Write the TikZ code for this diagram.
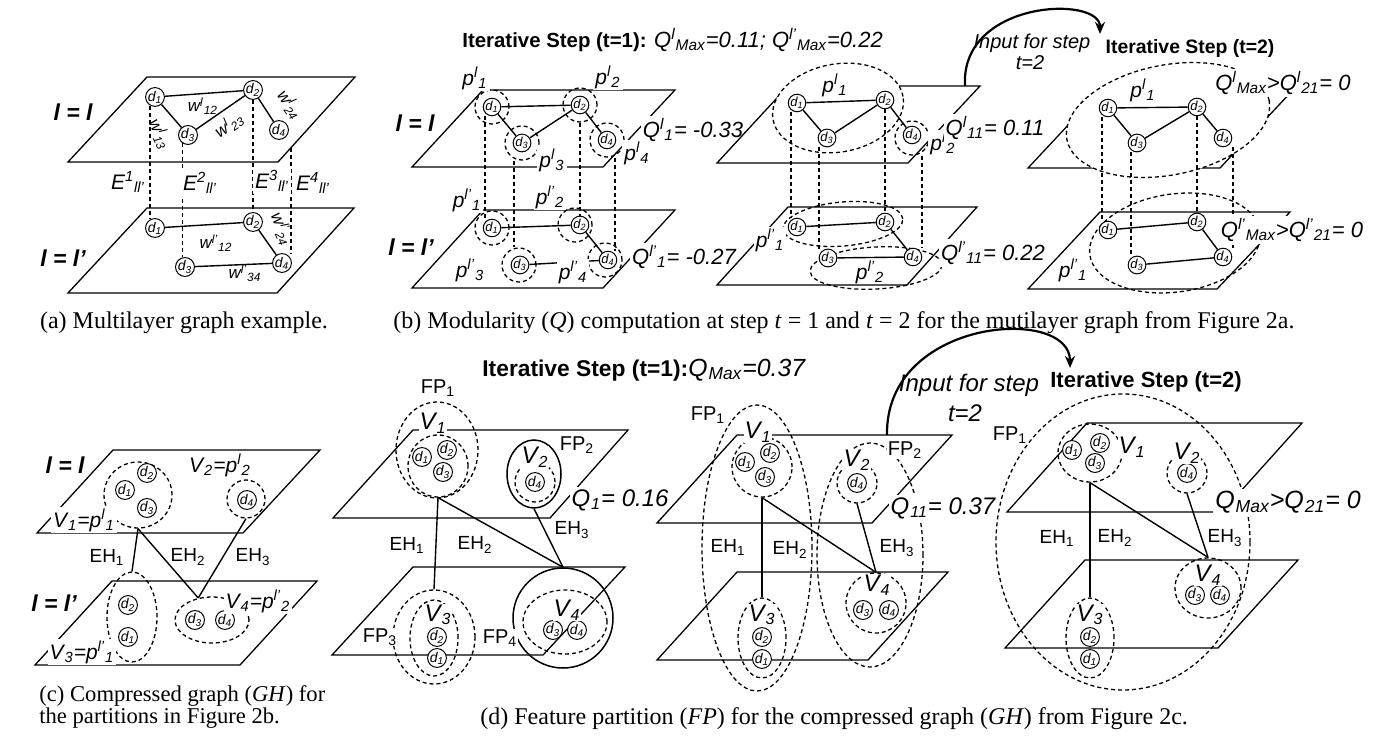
\documentclass[tikz,border=0pt]{standalone}
\usepackage{fontspec}
\setmainfont{Liberation Serif}
\setsansfont{Liberation Sans}
\usetikzlibrary{shapes.geometric,arrows.meta}
\newcommand{\dd}[1]{d\textsubscript{#1}}
\newcommand{\sus}[3]{#1\textsuperscript{#2}\textsubscript{#3}}
\newcommand{\fs}[1]{\fontsize{#1}{#1}\selectfont}
\tikzset{
 pl/.style={line width=0.65pt},
 ed/.style={line width=0.7pt},
 dsh/.style={line width=0.65pt, dash pattern=on 2pt off 1.5pt},
 dn/.style={circle, draw, fill=white, inner sep=0pt, minimum size=9pt, line width=0.5pt, font=\sffamily\itshape\fs{7}},
 dns/.style={dn, minimum size=8pt, font=\sffamily\itshape\fs{6.5}},
 dc/.style={circle, draw, dsh, inner sep=0pt, minimum size=17pt},
 de/.style={ellipse, draw, dsh, inner sep=0pt},
 se/.style={ellipse, draw, line width=0.75pt, inner sep=0pt},
 lab/.style={font=\sffamily\itshape\fs{10.5}, inner sep=1pt, fill=white},
 qlab/.style={font=\sffamily\itshape\fs{11}, inner sep=1pt, fill=white},
 wl/.style={font=\sffamily\itshape\fs{8.5}, inner sep=0.3pt},
 ll/.style={font=\sffamily\bfseries\itshape\fs{11.5}},
 tit/.style={font=\sffamily\bfseries\fs{10.2}, inner sep=0pt},
 eh/.style={font=\sffamily\fs{9.5}, inner sep=1pt},
 vl/.style={font=\sffamily\itshape\fs{12}, inner sep=0.5pt, fill=white},
 fpl/.style={font=\sffamily\fs{10}, inner sep=0.5pt, fill=white},
 bq/.style={font=\sffamily\itshape\fs{12}, inner sep=1pt, fill=white},
 capt/.style={font=\rmfamily\fontsize{12}{12}\selectfont, inner sep=0pt},
 arr/.style={line width=1.1pt, -{Stealth[length=6pt,width=5pt]}}
}
\begin{document}
\begin{tikzpicture}[x=0.5pt,y=-0.5pt]
\useasboundingbox (0,0) rectangle (1390,742);

% ================= panel (a)
\draw[pl] (147,77) -- (355,77) -- (278,162) -- (68,162) -- cycle;
\draw[pl] (147,208) -- (354,208) -- (277,293) -- (68,293) -- cycle;
\node[dn] (a1) at (155,97) {\dd1};
\node[dn] (a2) at (253,90) {\dd2};
\node[dn] (a3) at (188,135) {\dd3};
\node[dn] (a4) at (279,130) {\dd4};
\node[dn] (A1) at (155,228) {\dd1};
\node[dn] (A2) at (253,222) {\dd2};
\node[dn] (A3) at (185,267) {\dd3};
\node[dn] (A4) at (282,263) {\dd4};
\draw[ed] (a1) -- (a2); \draw[ed] (a1) -- (a3); \draw[ed] (a3) -- (a2); \draw[ed] (a2) -- (a4);
\draw[ed] (A1) -- (A2); \draw[ed] (A3) -- (A4); \draw[ed] (A2) -- (A4);
\draw[dsh] (a1.240) -- (a1.240 |- A1.north);
\draw[dsh] (a3.235) -- (a3.235 |- A3.north);
\draw[dsh] (a2.south) -- (A2.north);
\coordinate (a4e) at (291,148);
\draw[dsh] (a4e) -- (a4e |- A4.north);
\node[wl] (w12) at (203,106) {\sus{w}{l}{12}};
\node[wl, rotate=34] (w23) at (229,125) {\sus{w}{l}{23}};
\node[wl, rotate=-65] (w13) at (160,134) {\sus{w}{l}{13}};
\node[wl, rotate=-55] (w24) at (290,105) {\sus{w}{l}{24}};
\node[wl] (W12) at (216,243) {\sus{w}{l'}{12}};
\node[wl] (W34) at (245,273) {\sus{w}{l'}{34}};
\node[wl, rotate=-68] (W24) at (282,229) {\sus{w}{l'}{24}};
\node[lab] (E1) at (128,182) {\sus{E}{1}{ll'}};
\node[lab] (E2) at (200,183) {\sus{E}{2}{ll'}};
\node[lab] (E3) at (272,181) {\sus{E}{3}{ll'}};
\node[lab] (E4) at (313,183) {\sus{E}{4}{ll'}};
\node[ll] (la1) at (73,112) {l = l};
\node[ll] (la2) at (63,258) {l = l'};
\node[capt] (capa) at (184,323) {(a) Multilayer graph example.};

% ================= panel (b) step 1
\draw[pl] (483,90) -- (675,90) -- (603,167) -- (412,167) -- cycle;
\draw[pl] (483,210) -- (675,210) -- (603,288) -- (412,288) -- cycle;
\node[dc] (b1c) at (492,107) {};
\node[dc] (b2c) at (580,105) {};
\node[dc] (b3c) at (522,143) {};
\node[dc] (b4c) at (607,140) {};
\node[dc] (B1c) at (492,228) {};
\node[dc] (B2c) at (575,225) {};
\node[dc] (B3c) at (519,265) {};
\node[dc] (B4c) at (605,260) {};
\node[dns] (b1) at (492,107) {\dd1};
\node[dns] (b2) at (580,105) {\dd2};
\node[dns] (b3) at (522,143) {\dd3};
\node[dns] (b4) at (607,140) {\dd4};
\node[dns] (B1) at (492,228) {\dd1};
\node[dns] (B2) at (580,225) {\dd2};
\node[dns] (B3) at (520,265) {\dd3};
\node[dns] (B4) at (608,260) {\dd4};
\draw[ed] (b1) -- (b2); \draw[ed] (b1) -- (b3); \draw[ed] (b3) -- (b2); \draw[ed] (b2) -- (b4);
\draw[ed] (B1) -- (B2); \draw[ed] (B3) -- (B4); \draw[ed] (B2) -- (B4);
\draw[dsh] ([xshift=-3.5pt]b1.south) -- ([xshift=-3.5pt]B1.north);
\draw[dsh] ([xshift=-4pt]b3c.south) -- ([xshift=-4pt]b3c.south |- B3c.north);
\draw[dsh] (b2c.south) -- (b2c.south |- B2.north);
\draw[dsh] ([xshift=4pt]b4c.south) -- ([xshift=4pt]b4c.south |- B4.north);
\node[lab] (pb1) at (475,78) {\sus{p}{l}{1}};
\node[lab] (pb2) at (608,77) {\sus{p}{l}{2}};
\node[lab] (pb3) at (552,160) {\sus{p}{l}{3}};
\node[lab] (pb4) at (637,153) {\sus{p}{l}{4}};
\node[lab] (Pb1) at (467,200) {\sus{p}{l'}{1}};
\node[lab] (Pb2) at (550,197) {\sus{p}{l'}{2}};
\node[lab] (Pb3) at (470,270) {\sus{p}{l'}{3}};
\node[lab] (Pb4) at (573,272) {\sus{p}{l'}{4}};
\node[qlab] (qb1) at (693,130) {\sus{Q}{l}{1}= -0.33};
\node[qlab] (Qb1) at (684,257) {\sus{Q}{l'}{1}= -0.27};
\node[ll] (lb1) at (415,123) {l = l};
\node[ll] (lb2) at (411,247) {l = l'};
\node[tit, anchor=west] (titb) at (462,40) {Iterative Step (t=1): {\mdseries\itshape\fs{11}\sus{Q}{l}{Max}=0.11; \sus{Q}{l'}{Max}=0.22}};

% ================= panel (b) merged step 1
\draw[pl] (788,86) -- (980,86) -- (908,163) -- (717,163) -- cycle;
\draw[pl] (788,207) -- (977,207) -- (907,285) -- (717,285) -- cycle;
\node[de, fill=white, minimum width=66pt, minimum height=44pt, rotate=10] (pc1) at (838,108) {};
\node[dc] (c4c) at (912,138) {};
\node[de, minimum width=60pt, minimum height=22pt, rotate=5] (Pc1) at (843,224) {};
\node[de, minimum width=66pt, minimum height=21pt, rotate=3] (Pc2) at (876,268) {};
\node[dns] (c1) at (797,103) {\dd1};
\node[dns] (c2) at (885,100) {\dd2};
\node[dns] (c3) at (827,138) {\dd3};
\node[dns] (c4) at (912,135) {\dd4};
\node[dns] (C1) at (797,227) {\dd1};
\node[dns] (C2) at (885,222) {\dd2};
\node[dns] (C3) at (828,258) {\dd3};
\node[dns] (C4) at (913,257) {\dd4};
\draw[ed] (c1) -- (c2); \draw[ed] (c1) -- (c3); \draw[ed] (c3) -- (c2); \draw[ed] (c2) -- (c4);
\draw[ed] (C1) -- (C2); \draw[ed] (C3) -- (C4); \draw[ed] (C2) -- (C4);
\draw[dsh] ([xshift=-3pt]c1.south) -- ([xshift=-3pt]c1.south |- C1.north);
\draw[dsh] ([xshift=-4pt]c3.south) -- ([xshift=-4pt]c3.south |- C3.north);
\draw[dsh] (c2.south) -- (c2.south |- C2.north);
\draw[dsh] ([xshift=5pt]c4c.south) -- ([xshift=5pt]c4c.south |- C4.north);
\node[lab, fill=none] (pc1l) at (835,85) {\sus{p}{l}{1}};
\node[lab] (pc2l) at (943,143) {\sus{p}{l}{2}};
\node[qlab] (qc) at (995,128) {\sus{Q}{l}{11}= 0.11};
\node[lab] (Pc1l) at (770,240) {\sus{p}{l'}{1}};
\node[lab, fill=none] (Pc2l) at (870,272) {\sus{p}{l'}{2}};
\node[qlab] (Qc) at (993,253) {\sus{Q}{l'}{11}= 0.22};
\node[lab, fill=none, font=\sffamily\itshape\fs{10}] (inb1) at (1032,43) {Input for step};
\node[lab, fill=none, font=\sffamily\itshape\fs{10}] (inb2) at (1030,63) {t=2};
\node[tit, font=\sffamily\bfseries\fs{9.7}] (titb2) at (1190,48) {Iterative Step (t=2)};
\coordinate (arbS) at (965,86);
\coordinate (arbE) at (1100,34);
\draw[arr] (arbS) .. controls (960,0) and (1100,-5) .. (arbE);

% ================= panel (b) step 2
\draw[pl] (1100,91) -- (1292,91) -- (1220,168) -- (1028,168) -- cycle;
\draw[pl] (1100,212) -- (1290,212) -- (1217,289) -- (1028,289) -- cycle;
\node[de, fill=white, minimum width=103pt, minimum height=55pt, rotate=11] (pe1) at (1168,120) {};
\node[de, minimum width=86pt, minimum height=49pt, rotate=8] (Pe1) at (1175,243) {};
\node[dns] (e1) at (1108,108) {\dd1};
\node[dns] (e2) at (1197,107) {\dd2};
\node[dns] (e3) at (1137,143) {\dd3};
\node[dns] (e4) at (1223,138) {\dd4};
\node[dns] (E1n) at (1108,230) {\dd1};
\node[dns] (E2n) at (1197,222) {\dd2};
\node[dns] (E3n) at (1137,265) {\dd3};
\node[dns] (E4n) at (1223,257) {\dd4};
\draw[ed] (e1) -- (e2); \draw[ed] (e1) -- (e3); \draw[ed] (e3) -- (e2); \draw[ed] (e2) -- (e4);
\draw[ed] (E1n) -- (E2n); \draw[ed] (E3n) -- (E4n); \draw[ed] (E2n) -- (E4n);
\draw[dsh] ([xshift=-3pt]e1.south) -- ([xshift=-3pt]e1.south |- E1n.north);
\draw[dsh] ([xshift=-3pt]e3.south) -- ([xshift=-3pt]e3.south |- E3n.north);
\draw[dsh] (e2.south) -- (e2.south |- E2n.north);
\draw[dsh] ([xshift=5pt]e4.south) -- ([xshift=5pt]e4.south |- E4n.north);
\node[lab, fill=none] (pe1l) at (1143,90) {\sus{p}{l}{1}};
\node[lab, fill=none] (Pe1l) at (1073,270) {\sus{p}{l'}{1}};
\node[qlab] (qe) at (1283,83) {\sus{Q}{l}{Max}>\sus{Q}{l}{21}= 0};
\node[qlab] (Qe) at (1292,230) {\sus{Q}{l'}{Max}>\sus{Q}{l'}{21}= 0};
\node[capt] (capb) at (844,323) {(b) Modularity (\textit{Q}) computation at step \textit{t} = 1 and \textit{t} = 2 for the mutilayer graph from Figure 2a.};

% ================= panel (c)
\draw[pl] (113,450) -- (320,450) -- (243,533) -- (37,533) -- cycle;
\draw[pl] (112,581) -- (317,581) -- (240,665) -- (35,665) -- cycle;
\node[de, minimum width=34pt, minimum height=33pt] (gV1) at (138,495) {};
\node[dc, minimum size=19pt] (gV2) at (246,499) {};
\node[de, minimum width=25pt, minimum height=45pt] (gV3) at (132,617) {};
\node[de, minimum width=37pt, minimum height=23pt] (gV4) at (212,620) {};
\node[dn] (g12) at (147,473) {\dd2};
\node[dn] (g11) at (125,490) {\dd1};
\node[dn] (g13) at (147,508) {\dd3};
\node[dn] (g24) at (247,500) {\dd4};
\node[dn] (g32) at (128,605) {\dd2};
\node[dn] (g31) at (128,637) {\dd1};
\node[dn] (g43) at (195,620) {\dd3};
\node[dn] (g44) at (225,620) {\dd4};
\draw[ed] (gV1.south) -- (gV3.north);
\draw[ed] (gV1.south) -- (gV4.122);
\draw[ed] (gV2.south) -- (gV4.122);
\node[lab] (gl1) at (84,520) {\sus{V}{}{1}=\sus{p}{l}{1}};
\node[lab] (gl2) at (220,465) {\sus{V}{}{2}=\sus{p}{l}{2}};
\node[lab] (gl3) at (82,652) {\sus{V}{}{3}=\sus{p}{l'}{1}};
\node[lab] (gl4) at (258,601) {\sus{V}{}{4}=\sus{p}{l'}{2}};
\node[eh] (geh1) at (107,557) {EH\textsubscript{1}};
\node[eh] (geh2) at (188,557) {EH\textsubscript{2}};
\node[eh] (geh3) at (253,557) {EH\textsubscript{3}};
\node[ll] (lc1) at (65,465) {l = l};
\node[ll] (lc2) at (54,603) {l = l'};
\node[capt, anchor=west, font=\rmfamily\fontsize{11.3}{11}\selectfont] (capc1) at (39,696) {(c) Compressed graph (\textit{GH}) for};
\node[capt, anchor=west, font=\rmfamily\fontsize{11.3}{11}\selectfont] (capc2) at (39,718) {the partitions in Figure 2b.};

% ================= panel (d) step 1
\draw[pl] (413,430) -- (628,430) -- (550,518) -- (333,518) -- cycle;
\draw[pl] (413,567) -- (625,567) -- (543,655) -- (332,655) -- cycle;
\node[de, minimum width=41pt, minimum height=48pt] (hFP1) at (437,450) {};
\node[de, minimum width=30pt, minimum height=31pt] (hV1) at (438,466) {};
\node[se, minimum width=27pt, minimum height=34pt] (hFP2) at (534,474) {};
\node[de, minimum width=20pt, minimum height=20pt] (hV2) at (535,482) {};
\node[de, minimum width=41pt, minimum height=47pt] (hFP3) at (434,637) {};
\node[de, minimum width=24pt, minimum height=38pt] (hV3) at (434,638) {};
\node[se, minimum width=50pt, minimum height=50pt] (hFP4) at (563,618) {};
\node[de, minimum width=42pt, minimum height=32pt] (hV4) at (565,622) {};
\node[dn] (h11) at (422,457) {\dd1};
\node[dn] (h12) at (447,450) {\dd2};
\node[dn] (h13) at (443,472) {\dd3};
\node[dn] (h24) at (535,482) {\dd4};
\node[dn] (h32) at (437,637) {\dd2};
\node[dn] (h31) at (437,658) {\dd1};
\node[dn] (h43) at (553,630) {\dd3};
\node[dn] (h44) at (577,630) {\dd4};
\draw[ed] (hV1.south) -- (hFP3.north);
\draw[ed] (hV1.south) -- (hFP4.north);
\draw[ed] (hFP2.south) -- (hFP4.north);
\node[vl] (hv1) at (433,423) {\sus{V}{}{1}};
\node[vl] (hv2) at (535,457) {\sus{V}{}{2}};
\node[vl] (hv3) at (438,615) {\sus{V}{}{3}};
\node[vl] (hv4) at (567,610) {\sus{V}{}{4}};
\node[fpl] (hf1) at (438,388) {FP\textsubscript{1}};
\node[fpl] (hf2) at (577,445) {FP\textsubscript{2}};
\node[fpl] (hf3) at (380,637) {FP\textsubscript{3}};
\node[fpl] (hf4) at (500,638) {FP\textsubscript{4}};
\node[bq] (hq) at (620,500) {\sus{Q}{}{1}= 0.16};
\node[eh] (heh1) at (407,545) {EH\textsubscript{1}};
\node[eh] (heh2) at (475,545) {EH\textsubscript{2}};
\node[eh] (heh3) at (572,530) {EH\textsubscript{3}};
\node[tit, anchor=west, font=\sffamily\bfseries\fs{11.4}] (titd) at (482,370) {Iterative Step (t=1):{\mdseries\itshape\fs{12.4}\sus{Q}{}{Max}=0.37}};

% ================= panel (d) merged
\draw[pl] (737,435) -- (952,435) -- (872,523) -- (657,523) -- cycle;
\draw[pl] (737,572) -- (948,572) -- (868,660) -- (657,660) -- cycle;
\node[de, minimum width=55pt, minimum height=143pt] (iFP1) at (757,548) {};
\node[de, minimum width=53pt, minimum height=112pt] (iFP2) at (870,555) {};
\node[de, minimum width=30pt, minimum height=30pt] (iV1) at (762,467) {};
\node[de, minimum width=20pt, minimum height=20pt] (iV2) at (857,483) {};
\node[de, minimum width=24pt, minimum height=40pt] (iV3) at (762,638) {};
\node[de, minimum width=30pt, minimum height=30pt] (iV4) at (876,603) {};
\node[dn] (i11) at (745,462) {\dd1};
\node[dn] (i12) at (770,453) {\dd2};
\node[dn] (i13) at (765,477) {\dd3};
\node[dn] (i24) at (857,483) {\dd4};
\node[dn] (i32) at (762,637) {\dd2};
\node[dn] (i31) at (762,659) {\dd1};
\node[dn] (i43) at (863,610) {\dd3};
\node[dn] (i44) at (889,610) {\dd4};
\draw[ed] (iV1.south) -- (iV3.north);
\draw[ed] (iV1.south) -- (iV4.north);
\draw[ed] (iV2.south) -- (iV4.north);
\node[vl] (iv1) at (758,432) {\sus{V}{}{1}};
\node[vl] (iv2) at (857,460) {\sus{V}{}{2}};
\node[vl] (iv3) at (762,615) {\sus{V}{}{3}};
\node[vl] (iv4) at (877,585) {\sus{V}{}{4}};
\node[fpl] (if1) at (708,415) {FP\textsubscript{1}};
\node[fpl] (if2) at (905,450) {FP\textsubscript{2}};
\node[bq] (iq) at (943,508) {\sus{Q}{}{11}= 0.37};
\node[eh] (ieh1) at (728,547) {EH\textsubscript{1}};
\node[eh] (ieh2) at (790,550) {EH\textsubscript{2}};
\node[eh] (ieh3) at (897,548) {EH\textsubscript{3}};
\node[lab, fill=none, font=\sffamily\itshape\fs{12}] (ind1) at (969,385) {Input for step};
\node[lab, fill=none, font=\sffamily\itshape\fs{12}] (ind2) at (965,413) {t=2};
\node[tit, font=\sffamily\bfseries\fs{11}] (titd2) at (1146,382) {Iterative Step (t=2)};
\coordinate (ardS) at (887,435);
\coordinate (ardE) at (1070,368);
\draw[arr] (ardS) .. controls (885,318) and (1070,305) .. (ardE);

% ================= panel (d) step 2
\draw[pl] (1087,423) -- (1302,423) -- (1222,512) -- (1007,512) -- cycle;
\draw[pl] (1085,560) -- (1298,560) -- (1218,648) -- (1005,648) -- cycle;
\node[de, minimum width=127pt, minimum height=148pt] (jFP1) at (1123,542) {};
\node[de, minimum width=32pt, minimum height=29pt] (jV1) at (1090,453) {};
\node[de, minimum width=20pt, minimum height=20pt] (jV2) at (1187,473) {};
\node[de, minimum width=24pt, minimum height=40pt] (jV3) at (1090,638) {};
\node[de, minimum width=33pt, minimum height=30pt] (jV4) at (1208,588) {};
\node[dn] (j11) at (1072,450) {\dd1};
\node[dn] (j12) at (1100,443) {\dd2};
\node[dn] (j13) at (1095,463) {\dd3};
\node[dn] (j24) at (1187,473) {\dd4};
\node[dn] (j32) at (1090,637) {\dd2};
\node[dn] (j31) at (1090,659) {\dd1};
\node[dn] (j43) at (1195,595) {\dd3};
\node[dn] (j44) at (1220,595) {\dd4};
\draw[ed] (jV1.south) -- (jV3.north);
\draw[ed] (jV1.south) -- (jV4.north);
\draw[ed] (jV2.south) -- (jV4.north);
\node[vl] (jv1) at (1132,447) {\sus{V}{}{1}};
\node[vl] (jv2) at (1187,453) {\sus{V}{}{2}};
\node[vl] (jv3) at (1090,615) {\sus{V}{}{3}};
\node[vl] (jv4) at (1208,575) {\sus{V}{}{4}};
\node[fpl] (jf1) at (1010,435) {FP\textsubscript{1}};
\node[bq, font=\sffamily\itshape\fs{12.5}] (jq) at (1288,502) {\sus{Q}{}{Max}>\sus{Q}{}{21}= 0};
\node[eh] (jeh1) at (1057,538) {EH\textsubscript{1}};
\node[eh] (jeh2) at (1115,538) {EH\textsubscript{2}};
\node[eh] (jeh3) at (1225,538) {EH\textsubscript{3}};
\node[capt, anchor=west] (capd) at (480,719) {(d) Feature partition (\textit{FP}) for the compressed graph (\textit{GH}) from Figure 2c.};
\end{tikzpicture}
\end{document}
